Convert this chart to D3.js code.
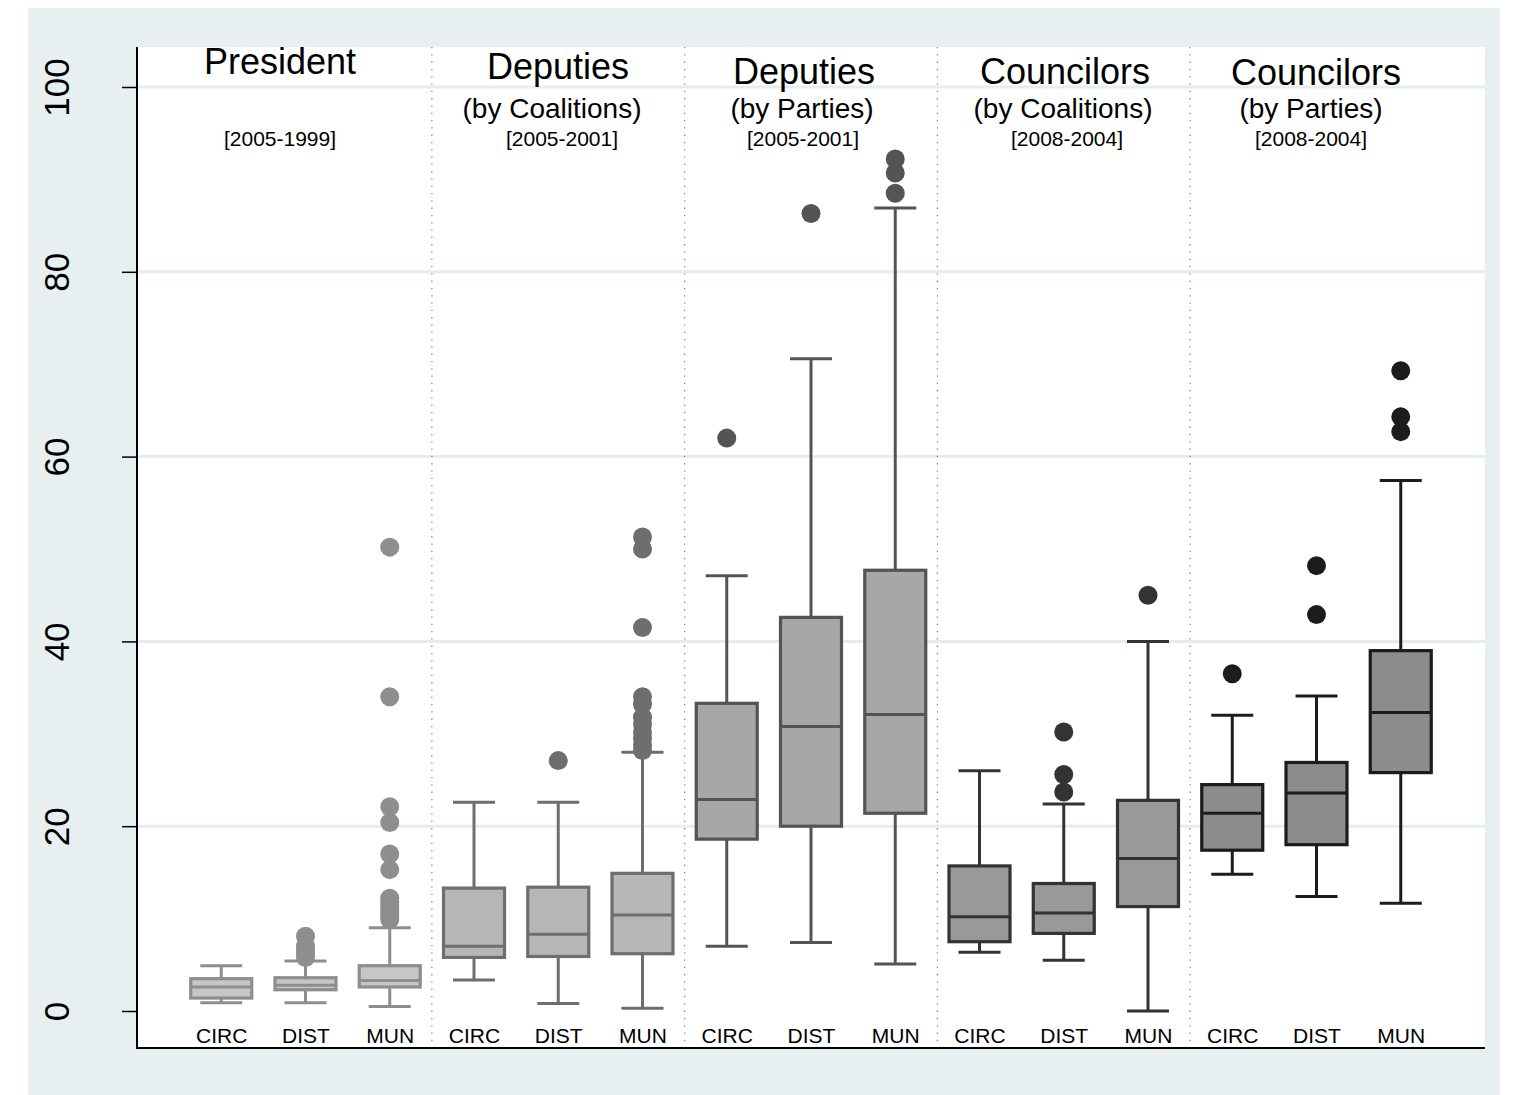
<!DOCTYPE html>
<html>
<head>
<meta charset="utf-8">
<script src="https://cdn.jsdelivr.net/npm/d3@7"></script>
<style>
html,body{margin:0;padding:0;background:#fff;}
svg{display:block;font-family:"Liberation Sans",Arial,sans-serif;}
</style>
</head>
<body>
<svg id="chart" width="1519" height="1095"></svg>
<script>
// ---- data ----
const groupTitles = ["President", "Deputies", "Deputies", "Councilors", "Councilors"];
const groupSubtitles = ["", "(by Coalitions)", "(by Parties)", "(by Coalitions)", "(by Parties)"];
const groupYears = ["[2005-1999]", "[2005-2001]", "[2005-2001]", "[2008-2004]", "[2008-2004]"];
const units = ["CIRC", "DIST", "MUN"];
const yTicks = [0, 20, 40, 60, 80, 100];

// 15 boxes: 5 groups x (CIRC, DIST, MUN)
const lowWhisker  = [0.9, 0.9, 0.5,   3.35, 0.8, 0.3,   7.0, 7.4, 5.1,    6.35, 5.5, 0.0,   14.8, 12.4, 11.65];
const q1Values    = [1.4, 2.3, 2.6,   5.8, 5.9, 6.2,    18.6, 20.0, 21.4, 7.5, 8.4, 11.3,   17.4, 18.0, 25.8];
const medianVals  = [2.6, 2.8, 3.3,   7.0, 8.3, 10.4,   22.9, 30.8, 32.1, 10.2, 10.6, 16.5, 21.4, 23.6, 32.3];
const q3Values    = [3.5, 3.6, 4.9,   13.3, 13.4, 14.9, 33.3, 42.6, 47.7, 15.7, 13.8, 22.8, 24.5, 26.9, 39.0];
const highWhisker = [4.9, 5.4, 9.0,   22.6, 22.6, 28.0, 47.1, 70.6, 86.9, 26.0, 22.4, 40.0, 32.0, 34.1, 57.4];
const outliers = [
  [], [8.1, 7.0, 6.6, 6.2, 5.8], [50.2, 34.0, 22.1, 20.4, 17.0, 15.3, 12.2, 11.8, 11.4, 11.0, 10.6, 10.2, 9.9],
  [], [27.1], [51.3, 50.0, 41.5, 34.0, 33.2, 31.8, 31.0, 30.2, 29.5, 28.8, 28.2],
  [62.0], [86.3], [92.2, 90.7, 88.5],
  [], [30.2, 25.6, 23.7], [45.0],
  [36.5], [48.2, 42.9], [69.3, 64.3, 62.7]
];

// ---- styles ----
const strokeColors = ["#8e8e8e", "#6e6e6e", "#545454", "#333333", "#1c1c1c"];
const fillColors   = ["#c6c6c6", "#b6b6b6", "#a7a7a7", "#999999", "#8c8c8c"];

const svg = d3.select("#chart");
const plot = {left: 137, right: 1485, top: 47, bottom: 1048};

// background
svg.append("rect").attr("x", 0).attr("y", 0).attr("width", 1519).attr("height", 1095).attr("fill", "#fff");
svg.append("rect").attr("x", 28).attr("y", 8).attr("width", 1472).attr("height", 1087).attr("fill", "#e8eff1");
svg.append("rect").attr("x", plot.left).attr("y", plot.top)
  .attr("width", plot.right - plot.left).attr("height", plot.bottom - plot.top).attr("fill", "#fff");

const boxes = d3.range(15).map(i => ({
  i, g: Math.floor(i / 3), unit: units[i % 3],
  lo: lowWhisker[i], q1: q1Values[i], med: medianVals[i], q3: q3Values[i], hi: highWhisker[i], out: outliers[i]
}));

const x = d3.scalePoint().domain(d3.range(15)).range([plot.left, plot.right]).padding(1);
const y = d3.scaleLinear().domain([0, 100]).range([1011, 87]);

// gridlines
svg.append("g").selectAll("line").data(yTicks.filter(t => t > 0)).join("line")
  .attr("x1", plot.left).attr("x2", plot.right)
  .attr("y1", d => y(d)).attr("y2", d => y(d))
  .attr("stroke", "#e5edf0").attr("stroke-width", 3);

// dotted group separators
const step = x.step();
svg.append("g").selectAll("line").data([1, 2, 3, 4]).join("line")
  .attr("x1", d => x(d * 3) - step / 2).attr("x2", d => x(d * 3) - step / 2)
  .attr("y1", plot.top).attr("y2", plot.bottom)
  .attr("stroke", "#8a8a8a").attr("stroke-width", 1.3).attr("stroke-dasharray", "1.3,6");

// y axis
const yAxis = d3.axisLeft(y).tickValues(yTicks).tickSize(15).tickFormat(d3.format("d"));
const ya = svg.append("g").attr("transform", `translate(${plot.left},0)`).call(yAxis);
ya.select(".domain").remove();
ya.selectAll(".tick line").attr("stroke", "#000").attr("stroke-width", 1.5);
ya.selectAll(".tick text")
  .attr("font-size", 35).attr("fill", "#000")
  .attr("font-family", "'Liberation Sans', Arial, sans-serif")
  .attr("text-anchor", "middle").attr("dy", null).attr("x", null)
  .attr("transform", "translate(-81,0) rotate(-90)")
  .attr("dominant-baseline", "central");
svg.append("line").attr("x1", plot.left).attr("x2", plot.left).attr("y1", plot.top).attr("y2", plot.bottom + 1)
  .attr("stroke", "#000").attr("stroke-width", 2);

// x axis
const xAxis = d3.axisBottom(x).tickSize(0).tickFormat(i => units[i % 3]);
const xa = svg.append("g").attr("transform", `translate(0,${plot.bottom})`).call(xAxis);
xa.select(".domain").remove();
xa.selectAll(".tick text").attr("font-size", 21).attr("fill", "#000")
  .attr("font-family", "'Liberation Sans', Arial, sans-serif")
  .attr("y", -5).attr("dy", 0);
svg.append("line").attr("x1", plot.left - 1).attr("x2", plot.right).attr("y1", plot.bottom).attr("y2", plot.bottom)
  .attr("stroke", "#000").attr("stroke-width", 2);

// boxes
const bw = 61, cw = 42;
const bg = svg.append("g").selectAll("g").data(boxes).join("g");
bg.each(function(d) {
  const g = d3.select(this);
  const cx = x(d.i), sc = strokeColors[d.g], fc = fillColors[d.g];
  g.append("line").attr("x1", cx).attr("x2", cx).attr("y1", y(d.hi)).attr("y2", y(d.q3))
    .attr("stroke", sc).attr("stroke-width", 3);
  g.append("line").attr("x1", cx).attr("x2", cx).attr("y1", y(d.q1)).attr("y2", y(d.lo))
    .attr("stroke", sc).attr("stroke-width", 3);
  g.append("line").attr("x1", cx - cw / 2).attr("x2", cx + cw / 2).attr("y1", y(d.hi)).attr("y2", y(d.hi))
    .attr("stroke", sc).attr("stroke-width", 3);
  g.append("line").attr("x1", cx - cw / 2).attr("x2", cx + cw / 2).attr("y1", y(d.lo)).attr("y2", y(d.lo))
    .attr("stroke", sc).attr("stroke-width", 3);
  g.append("rect").attr("x", cx - bw / 2).attr("width", bw)
    .attr("y", y(d.q3)).attr("height", y(d.q1) - y(d.q3))
    .attr("fill", fc).attr("stroke", sc).attr("stroke-width", 3.2);
  g.append("line").attr("x1", cx - bw / 2).attr("x2", cx + bw / 2).attr("y1", y(d.med)).attr("y2", y(d.med))
    .attr("stroke", sc).attr("stroke-width", 3);
  g.selectAll("circle").data(d.out).join("circle")
    .attr("cx", cx).attr("cy", v => y(v)).attr("r", 9.5).attr("fill", sc);
});

// group titles
const titleX = [280, 558, 804, 1065, 1316];
const titleY = [74, 79, 84, 84, 85];
const subX = [280, 552, 802, 1063, 1311];
const yearX = [280, 562, 803, 1067, 1311];
const tg = svg.append("g").attr("font-family", "'Liberation Sans', Arial, sans-serif").attr("fill", "#000").attr("text-anchor", "middle");
tg.selectAll("text.t").data(groupTitles).join("text").attr("class", "t")
  .attr("x", (d, i) => titleX[i]).attr("y", (d, i) => titleY[i]).attr("font-size", 36).text(d => d);
tg.selectAll("text.s").data(groupSubtitles).join("text").attr("class", "s")
  .attr("x", (d, i) => subX[i]).attr("y", 118).attr("font-size", 28).text(d => d);
tg.selectAll("text.yr").data(groupYears).join("text").attr("class", "yr")
  .attr("x", (d, i) => yearX[i]).attr("y", 146).attr("font-size", 21).text(d => d);
</script>
</body>
</html>
